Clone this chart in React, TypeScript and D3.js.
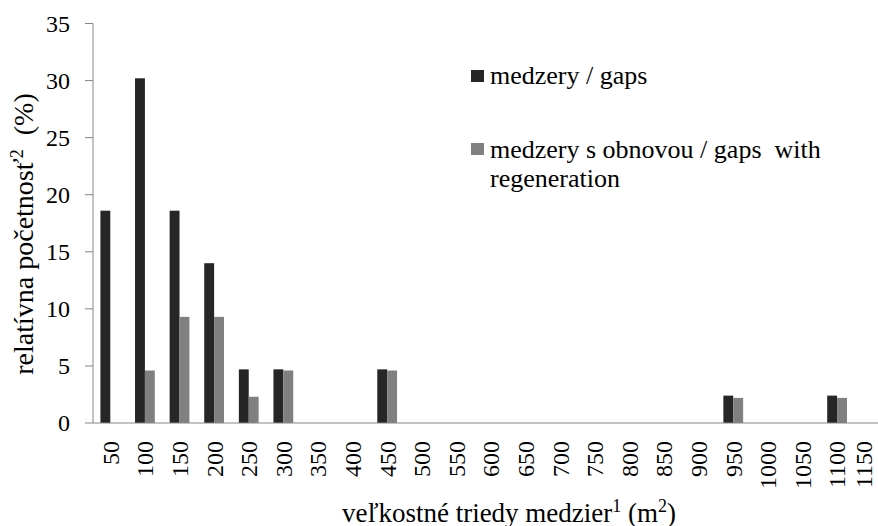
import React from "react";
import * as d3 from "d3";

const categories = ["50","100","150","200","250","300","350","400","450","500","550","600","650","700","750","800","850","900","950","1000","1050","1100","1150"];
const gapsValues = [18.6,30.2,18.6,14.0,4.7,4.7,0,0,4.7,0,0,0,0,0,0,0,0,0,2.4,0,0,2.4,0];
const regenValues = [0,4.6,9.3,9.3,2.3,4.6,0,0,4.6,0,0,0,0,0,0,0,0,0,2.2,0,0,2.2,0];
const yTicks = [0,5,10,15,20,25,30,35];
const seriesNames = ["medzery / gaps", "medzery s obnovou / gaps  with", "regeneration"];

const W = 878, H = 526;
const left = 93, right = 889, top = 23.5, bottom = 423;
const DARK = "#262626", GRAY = "#808080", AXIS = "#868686";
const FONT = "Liberation Serif";
const ts = { fontFamily: FONT, whiteSpace: "pre" as const };

export default function App() {
  const x = d3.scaleBand<string>().domain(categories).range([left, right]).paddingInner(0).paddingOuter(0);
  const y = d3.scaleLinear().domain([0, 35]).range([bottom, top]);
  const bw = x.bandwidth() / 3.5;
  const cx = (c: string) => (x(c) as number) + x.bandwidth() / 2;

  return (
    <svg width={W} height={H} style={{ position: "absolute", left: 0, top: 0, overflow: "hidden", background: "#fff" }}>
      <rect x={0} y={0} width={W} height={H} fill="#fff" />
      {/* y axis */}
      <line x1={left} x2={left} y1={y(35)} y2={y(0)} stroke={AXIS} strokeWidth={1} />
      {yTicks.map((t) => (
        <g key={t}>
          <line x1={left - 8} x2={left} y1={y(t)} y2={y(t)} stroke={AXIS} strokeWidth={1} />
          <text x={70} y={y(t)} dy="0.35em" textAnchor="end" fontSize={24} fill="#000" style={ts}>{t}</text>
        </g>
      ))}
      {/* bars */}
      {categories.map((c, i) => (
        <g key={c}>
          {gapsValues[i] > 0 && (
            <rect x={cx(c) - bw} y={y(gapsValues[i])} width={bw} height={y(0) - y(gapsValues[i])} fill={DARK} />
          )}
          {regenValues[i] > 0 && (
            <rect x={cx(c)} y={y(regenValues[i])} width={bw} height={y(0) - y(regenValues[i])} fill={GRAY} />
          )}
        </g>
      ))}
      {/* x axis */}
      <line x1={left} x2={right} y1={y(0)} y2={y(0)} stroke={AXIS} strokeWidth={1} />
      {categories.map((c) => (
        <text key={c} transform={`translate(${Math.min(cx(c), W - 14)},441) rotate(-90)`} dy="0.35em" textAnchor="end" fontSize={24} fill="#000" style={ts}>{c}</text>
      ))}
      {/* axis titles */}
      <text x={509} y={521.5} textAnchor="middle" fontSize={27} fill="#000" style={ts}>
        veľkostné triedy medzier<tspan dy={-10} fontSize={18}>1</tspan><tspan dy={10}> (m</tspan><tspan dy={-10} fontSize={18}>2</tspan><tspan dy={10}>)</tspan>
      </text>
      <text transform={`translate(32.5,234) rotate(-90)`} textAnchor="middle" fontSize={28} fill="#000" style={ts}>
        relatívna početnosť<tspan dy={-10} fontSize={18}>2</tspan><tspan dy={10}>  (%)</tspan>
      </text>
      {/* legend */}
      <rect x={471} y={70} width={13} height={12} fill={DARK} />
      <text x={490} y={83.5} fontSize={26} fill="#000" style={ts}>{seriesNames[0]}</text>
      <rect x={471} y={143} width={13} height={12} fill={GRAY} />
      <text x={490} y={158} fontSize={26} fill="#000" style={ts}>{seriesNames[1]}</text>
      <text x={490} y={186.5} fontSize={26} fill="#000" style={ts}>{seriesNames[2]}</text>
    </svg>
  );
}
